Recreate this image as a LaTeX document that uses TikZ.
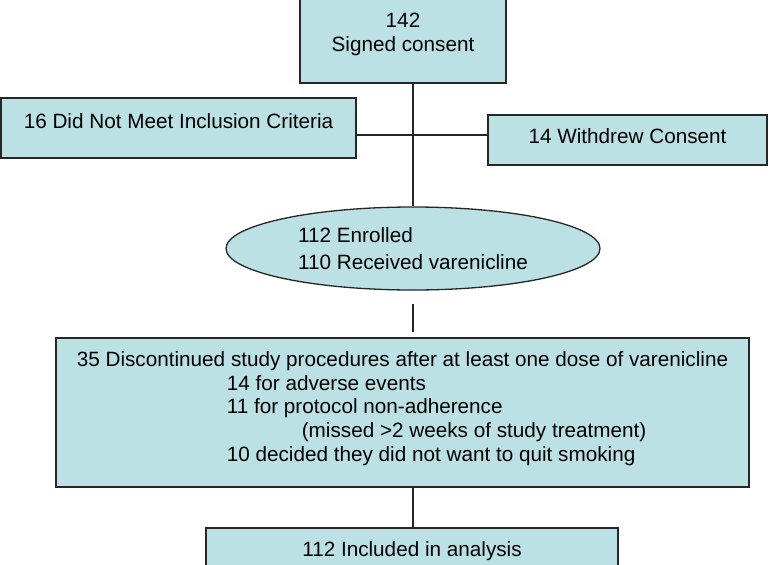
\documentclass[tikz,border=0pt]{standalone}
\usepackage{fontspec}
\setmainfont{Liberation Sans}
\usepackage{tikz}
\usetikzlibrary{shapes.geometric}
\definecolor{boxfill}{RGB}{188,225,228}
\tikzset{stage/.style={draw=black!85, line width=1.3pt, fill=boxfill, inner sep=1pt,
  font=\fontsize{20.7}{23.9}\selectfont},
  flow/.style={line width=1.2pt, black!85}}
\newcommand{\ind}[1]{\hspace*{#1pt}}

\begin{document}
\begin{tikzpicture}[x=1pt, y=-1pt]
 \useasboundingbox (0,0) rectangle (769,565);

 \node[stage, minimum width=206pt, minimum height=85pt, text height=52.7pt, text depth=30.3pt, align=center] (consent) at (403,40.5) {142\\Signed consent};
 \node[stage, minimum width=355pt, minimum height=60pt, text height=29pt, text depth=29pt] (excluded) at (178.5,128) {16 Did Not Meet Inclusion Criteria};
 \node[stage, minimum width=279pt, minimum height=50pt, text height=27.5pt, text depth=20.5pt] (withdrew) at (627.5,140) {14 Withdrew Consent};
 \node[stage, ellipse, inner sep=0pt, minimum width=374pt, minimum height=83pt, align=left,
   font=\fontsize{20.7}{27.4}\selectfont] (enrolled) at (413,248.5) {112 Enrolled\\110 Received varenicline};
 \node[stage, minimum width=693pt, minimum height=149pt, text height=122.7pt, text depth=24.3pt, align=left] (drop) at (402.5,412.5)
   {35 Discontinued study procedures after at least one dose of varenicline\\
    \ind{150}14 for adverse events\\
    \ind{150}11 for protocol non-adherence\\
    \ind{225}(missed >2 weeks of study treatment)\\
    \ind{150}10 decided they did not want to quit smoking};
 \node[stage, minimum width=412pt, minimum height=47pt, text height=27.7pt, text depth=17.3pt] (analysed) at (412,551.5) {112 Included in analysis};

 \coordinate (split) at (413,135);
 \draw[flow] (consent.south -| enrolled.north) -- (enrolled.north);
 \draw[flow] (excluded.east |- split) -- (split) -- (withdrew.west |- split);
 \draw[flow, shorten <=13pt, shorten >=5pt] (enrolled.south) -- (enrolled.south |- drop.north);
 \draw[flow] (enrolled.south |- drop.south) -- (enrolled.south |- analysed.north);
\end{tikzpicture}
\end{document}
